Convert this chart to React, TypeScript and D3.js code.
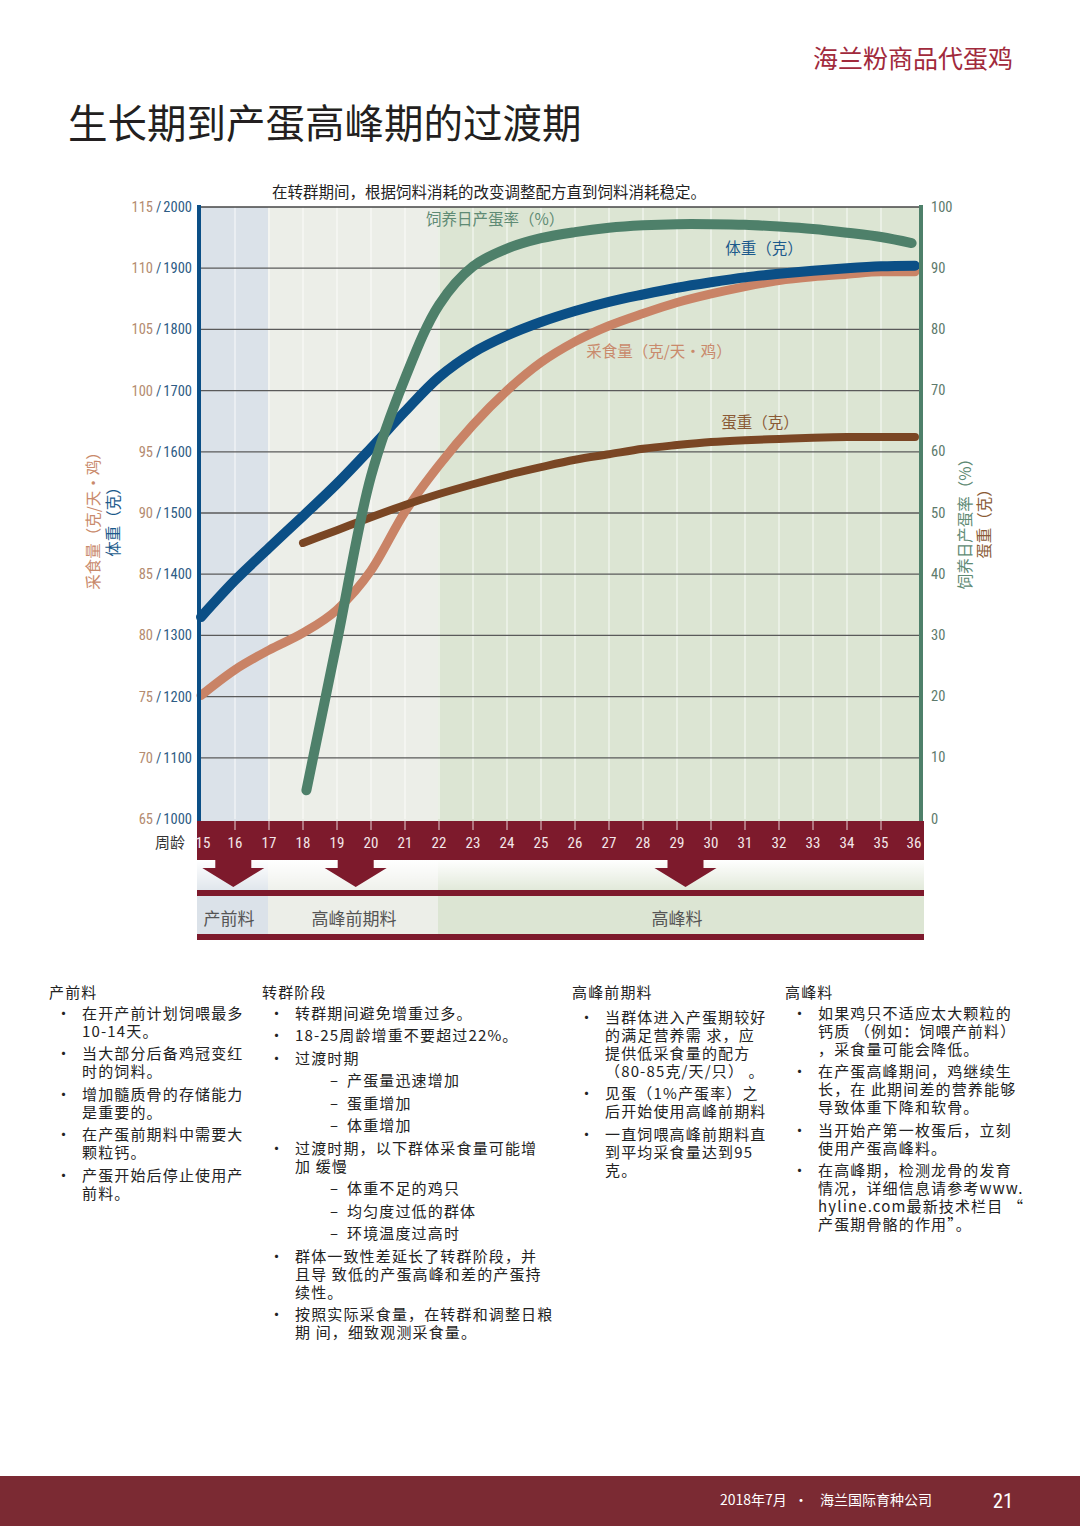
import React from 'react';
import * as d3 from 'd3';

// ---------- DATA ----------
const weeks = [15, 16, 17, 18, 19, 20, 21, 22, 23, 24, 25, 26, 27, 28, 29, 30, 31, 32, 33, 34, 35, 36];
const feedTicks = [65, 70, 75, 80, 85, 90, 95, 100, 105, 110, 115];
const bwTicks = [1000, 1100, 1200, 1300, 1400, 1500, 1600, 1700, 1800, 1900, 2000];
const rightTicks = [0, 10, 20, 30, 40, 50, 60, 70, 80, 90, 100];

const bodyWeight = [1330, 1390, 1443, 1495, 1548, 1606, 1666, 1722, 1762, 1790, 1812, 1830, 1845, 1857, 1868, 1877, 1885, 1891, 1896, 1900, 1903, 1904];
const feedIntake = [75.1, 77.2, 78.8, 80.2, 82.1, 85.3, 90.1, 93.9, 97.2, 100.0, 102.3, 104.0, 105.3, 106.3, 107.2, 107.9, 108.5, 109.0, 109.3, 109.5, 109.7, 109.7];
const eggWeeks = [18, 19, 20, 21, 22, 23, 24, 25, 26, 27, 28, 29, 30, 31, 32, 33, 34, 35, 36];
const eggWeight = [45.1, 47.2, 49.3, 51.3, 53.1, 54.7, 56.2, 57.5, 58.7, 59.6, 60.5, 61.1, 61.6, 61.9, 62.1, 62.3, 62.4, 62.4, 62.4];
const prodWeeks = [18.1, 19, 20, 21, 22, 23, 24, 25, 26, 27, 28, 29, 30, 31, 32, 33, 34, 35, 35.9];
const production = [4.7, 29, 56, 72, 84, 90.3, 93.2, 94.9, 95.9, 96.6, 97.0, 97.2, 97.2, 97.1, 96.8, 96.4, 95.8, 95.1, 94.1];

const phases = [
  { name: '产前料', from: 15, to: 17, fill: '#dbe2e9' },
  { name: '高峰前期料', from: 17, to: 22, fill: '#eceee8' },
  { name: '高峰料', from: 22, to: 36, fill: '#dce5d3' },
];
const arrowWeeks = [15.95, 19.55, 29.25];

const seriesLabels = [
  { text: '饲养日产蛋率（%）', week: 23.65, value: 98.2, axis: 'right', color: '#5e8a74' },
  { text: '体重（克）', week: 31.56, value: 1935, axis: 'bw', color: '#1c5a8c' },
  { text: '采食量（克/天・鸡）', week: 28.47, value: 103.3, axis: 'feed', color: '#c98a6c' },
  { text: '蛋重（克）', week: 31.44, value: 65.0, axis: 'right', color: '#8a5a36' },
];

type Item = { kind: 'bullet' | 'dash'; lines: string[] };
const col1: Item[] = [
  { kind: 'bullet', lines: ['在开产前计划饲喂最多', '10-14天。'] },
  { kind: 'bullet', lines: ['当大部分后备鸡冠变红', '时的饲料。'] },
  { kind: 'bullet', lines: ['增加髓质骨的存储能力', '是重要的。'] },
  { kind: 'bullet', lines: ['在产蛋前期料中需要大', '颗粒钙。'] },
  { kind: 'bullet', lines: ['产蛋开始后停止使用产', '前料。'] },
];
const col2: Item[] = [
  { kind: 'bullet', lines: ['转群期间避免增重过多。'] },
  { kind: 'bullet', lines: ['18-25周龄增重不要超过22%。'] },
  { kind: 'bullet', lines: ['过渡时期'] },
  { kind: 'dash', lines: ['产蛋量迅速增加'] },
  { kind: 'dash', lines: ['蛋重增加'] },
  { kind: 'dash', lines: ['体重增加'] },
  { kind: 'bullet', lines: ['过渡时期，以下群体采食量可能增', '加 缓慢'] },
  { kind: 'dash', lines: ['体重不足的鸡只'] },
  { kind: 'dash', lines: ['均匀度过低的群体'] },
  { kind: 'dash', lines: ['环境温度过高时'] },
  { kind: 'bullet', lines: ['群体一致性差延长了转群阶段，并', '且导 致低的产蛋高峰和差的产蛋持', '续性。'] },
  { kind: 'bullet', lines: ['按照实际采食量，在转群和调整日粮', '期 间，细致观测采食量。'] },
];
const col3: Item[] = [
  { kind: 'bullet', lines: ['当群体进入产蛋期较好', '的满足营养需 求，应', '提供低采食量的配方', '（80-85克/天/只）  。'] },
  { kind: 'bullet', lines: ['见蛋（1%产蛋率）之', '后开始使用高峰前期料'] },
  { kind: 'bullet', lines: ['一直饲喂高峰前期料直', '到平均采食量达到95', '克。'] },
];
const col4: Item[] = [
  { kind: 'bullet', lines: ['如果鸡只不适应太大颗粒的', '钙质 （例如：饲喂产前料）', '，采食量可能会降低。'] },
  { kind: 'bullet', lines: ['在产蛋高峰期间，鸡继续生', '长，在 此期间差的营养能够', '导致体重下降和软骨。'] },
  { kind: 'bullet', lines: ['当开始产第一枚蛋后，立刻', '使用产蛋高峰料。'] },
  { kind: 'bullet', lines: ['在高峰期，检测龙骨的发育', '情况，详细信息请参考www.', 'hyline.com最新技术栏目 “', '产蛋期骨骼的作用”。'] },
];
const columns = [
  { title: '产前料', x: 49, items: col1, first: 0 },
  { title: '转群阶段', x: 262, items: col2, first: 0 },
  { title: '高峰前期料', x: 572, items: col3, first: 4 },
  { title: '高峰料', x: 785, items: col4, first: 0 },
];

// ---------- LAYOUT ----------
const W = 1080, H = 1526;
const plotL = 199, plotR = 921, plotT = 207, plotB = 819;
const CJK = '"Noto Sans CJK SC", "Noto Sans", sans-serif';
const NUM = '"Roboto Condensed", "Liberation Sans Narrow", Roboto, sans-serif';
const crimson = '#7d1a2c';

const x = d3.scaleLinear().domain([15, 36]).range([201, 915]);
const yBW = d3.scaleLinear().domain([1000, 2000]).range([plotB, plotT]);
const yFeed = d3.scaleLinear().domain([65, 115]).range([plotB, plotT]);
const yR = d3.scaleLinear().domain([0, 100]).range([plotB, plotT]);

const mk = (xs: number[], ys: number[], sc: (v: number) => number, curve: any = d3.curveMonotoneX) =>
  d3.line<number>().x((_, i) => x(xs[i])).y((d) => sc(d)).curve(curve)(ys) || '';

const bx = (w: number) => (w <= 15 ? plotL : w >= 36 ? plotR + 2 : x(w) - 1);

const BODY_FS = 15;
const BODY_LS = 1.15;

export default function App() {
  const bwPath = mk(weeks, bodyWeight, yBW, d3.curveCatmullRom.alpha(0.5));
  const feedPath = mk(weeks, feedIntake, yFeed);
  const eggPath = mk(eggWeeks, eggWeight, yR);
  const prodPath = mk(prodWeeks, production, yR, d3.curveCatmullRom.alpha(0.5));

  const textBlocks: any[] = [];
  columns.forEach((c, ci) => {
    textBlocks.push(
      <text key={`h${ci}`} x={c.x} y={998} fontSize={BODY_FS} letterSpacing={BODY_LS} fill="#222" fontFamily={CJK}>{c.title}</text>
    );
    let cy = 1013 + c.first;
    c.items.forEach((it, ii) => {
      const isB = it.kind === 'bullet';
      const mx = isB ? c.x + 7 : c.x + 68;
      const tx = isB ? c.x + 33 : c.x + 85;
      textBlocks.push(
        <text key={`m${ci}-${ii}`} x={mx} y={cy + 5.5} fontSize={BODY_FS} fill="#222" fontFamily={CJK}>{isB ? '•' : '–'}</text>
      );
      it.lines.forEach((ln, li) => {
        textBlocks.push(
          <text key={`t${ci}-${ii}-${li}`} x={tx} y={cy + 5.5 + li * 18} fontSize={BODY_FS} letterSpacing={BODY_LS} fill="#222" fontFamily={CJK}>{ln}</text>
        );
      });
      cy += (it.lines.length - 1) * 18 + 22.5;
    });
  });

  return (
    <svg width={W} height={H} viewBox={`0 0 ${W} ${H}`} style={{ position: 'absolute', left: 0, top: 0, background: '#fff' }}>
      <defs>
        <linearGradient id="fadeDown" x1="0" y1="0" x2="0" y2="1">
          <stop offset="0" stopColor="#fff" stopOpacity="1" />
          <stop offset="1" stopColor="#fff" stopOpacity="0.1" />
        </linearGradient>
      </defs>
      <rect x={0} y={0} width={W} height={H} fill="#fff" />

      {/* header */}
      <text x={1013} y={68} textAnchor="end" fontSize={25} fill="#a12a3c" fontFamily={CJK}>海兰粉商品代蛋鸡</text>
      <text x={68} y={138} fontSize={39.5} fill="#231f20" fontFamily={CJK}>生长期到产蛋高峰期的过渡期</text>
      <text x={272} y={198} fontSize={15.5} fill="#222" fontFamily={CJK}>在转群期间，根据饲料消耗的改变调整配方直到饲料消耗稳定。</text>

      {/* plot background bands */}
      {phases.map((p) => (
        <rect key={`bg${p.name}`} x={bx(p.from)} y={plotT} width={bx(p.to) - bx(p.from)} height={plotB - plotT + 2} fill={p.fill} />
      ))}
      {weeks.slice(1, -1).map((w) => (
        <line key={`v${w}`} x1={x(w)} x2={x(w)} y1={plotT} y2={plotB} stroke="#fff" strokeOpacity={0.55} strokeWidth={1.5} />
      ))}
      {/* gridlines */}
      {bwTicks.slice(1).map((t) => (
        <line key={`g${t}`} x1={plotL} x2={plotR} y1={yBW(t)} y2={yBW(t)} stroke={t === 2000 ? '#444' : '#5a5a5a'} strokeWidth={t === 2000 ? 1.5 : 1.3} />
      ))}

      {/* series */}
      <path d={feedPath} fill="none" stroke="#c98366" strokeWidth={9} strokeLinecap="round" />
      <path d={eggPath} fill="none" stroke="#7a4624" strokeWidth={8} strokeLinecap="round" />
      <path d={bwPath} fill="none" stroke="#0b4f86" strokeWidth={10} strokeLinecap="round" />
      <path d={prodPath} fill="none" stroke="#4e806a" strokeWidth={10} strokeLinecap="round" />

      {seriesLabels.map((s) => {
        const sc = s.axis === 'bw' ? yBW : s.axis === 'feed' ? yFeed : yR;
        return (
          <text key={s.text} x={x(s.week)} y={sc(s.value)} textAnchor="middle" dominantBaseline="central" fontSize={15.5} fill={s.color} fontFamily={CJK}>{s.text}</text>
        );
      })}

      {/* axes lines */}
      <line x1={plotL} x2={plotL} y1={plotT - 2} y2={plotB + 3} stroke="#0b4f86" strokeWidth={4} />
      <line x1={plotR} x2={plotR} y1={plotT - 2} y2={plotB + 3} stroke="#4e806a" strokeWidth={4} />

      {/* left tick labels */}
      {bwTicks.map((t, i) => (
        <text key={`l${t}`} x={192} y={yBW(t)} dominantBaseline="central" textAnchor="end" fontSize={14.5} fontFamily={NUM}>
          <tspan fill="#b48b70">{feedTicks[i]}</tspan>
          <tspan fill="#2e5c85" dx={3}>/</tspan>
          <tspan fill="#2e5c85" dx={2}>{t}</tspan>
        </text>
      ))}
      {/* right tick labels */}
      {rightTicks.map((t) => (
        <text key={`r${t}`} x={931} y={yR(t)} dominantBaseline="central" fontSize={14.5} fill="#5d7a6c" fontFamily={NUM}>{t}</text>
      ))}

      {/* axis titles */}
      <text transform="translate(92,517) rotate(-90)" textAnchor="middle" dominantBaseline="central" fontSize={15.5} fill="#c98a6c" fontFamily={CJK}>采食量（克/天・鸡）</text>
      <text transform="translate(112,518) rotate(-90)" textAnchor="middle" dominantBaseline="central" fontSize={15.5} fill="#1c5a8c" fontFamily={CJK}>体重（克）</text>
      <text transform="translate(964,520) rotate(-90)" textAnchor="middle" dominantBaseline="central" fontSize={15.5} fill="#5e8a74" fontFamily={CJK}>饲养日产蛋率（%）</text>
      <text transform="translate(983,520) rotate(-90)" textAnchor="middle" dominantBaseline="central" fontSize={15.5} fill="#8a5a36" fontFamily={CJK}>蛋重（克）</text>

      {/* x axis band */}
      <rect x={197} y={821} width={727} height={39} fill={crimson} />
      {weeks.map((w) => (
        <g key={`xt${w}`}>
          {w > 15 && w < 36 && <line x1={x(w)} x2={x(w)} y1={821} y2={830} stroke="#fff" strokeOpacity={0.8} strokeWidth={1} />}
          <text x={w === 15 ? x(w) + 2 : w === 36 ? x(w) - 1 : x(w)} y={848} textAnchor="middle" fontSize={15} fill="#f3e6e8" fontFamily={NUM}>{w}</text>
        </g>
      ))}
      <text x={185} y={848} textAnchor="end" fontSize={15} fill="#333" fontFamily={CJK}>周龄</text>

      {/* lower feed phase band */}
      {phases.map((p) => {
        const x0 = bx(p.from) - (p.from === 15 ? 2 : 0);
        const x1 = bx(p.to) + (p.to === 36 ? 1 : 0);
        return (
          <g key={`lb${p.name}`}>
            <rect x={x0} y={860} width={x1 - x0} height={32} fill={p.fill} />
            <rect x={x0} y={893} width={x1 - x0} height={44} fill={p.fill} />
            <text x={(x(p.from) + x(p.to)) / 2 + (p.from === 15 ? -6 : 0)} y={917} textAnchor="middle" dominantBaseline="central" fontSize={17} fill="#555" fontFamily={CJK}>{p.name}</text>
          </g>
        );
      })}
      <rect x={197} y={860} width={727} height={32} fill="url(#fadeDown)" />
      <rect x={197} y={890} width={727} height={6} fill={crimson} />
      <rect x={197} y={934} width={727} height={6} fill={crimson} />

      {/* arrows */}
      {arrowWeeks.map((w) => {
        const cx = x(w);
        const d = `M${cx - 18},859 L${cx + 18},859 L${cx + 18},868 L${cx + 31},868 L${cx},887 L${cx - 31},868 L${cx - 18},868 Z`;
        return <path key={`a${w}`} d={d} fill={crimson} />;
      })}

      {/* text columns */}
      {textBlocks}

      {/* footer */}
      <rect x={0} y={1476} width={W} height={50} fill="#7b2a33" />
      <text x={720} y={1505} fontSize={14} fill="#fff" fontFamily={CJK}>2018年7月</text>
      <text x={801} y={1505} fontSize={14} fill="#fff" fontFamily={CJK} textAnchor="middle">•</text>
      <text x={820} y={1505} fontSize={14} fill="#fff" fontFamily={CJK}>海兰国际育种公司</text>
      <text x={1003} y={1508} fontSize={21} fill="#fff" fontFamily={NUM} textAnchor="middle">21</text>
    </svg>
  );
}
